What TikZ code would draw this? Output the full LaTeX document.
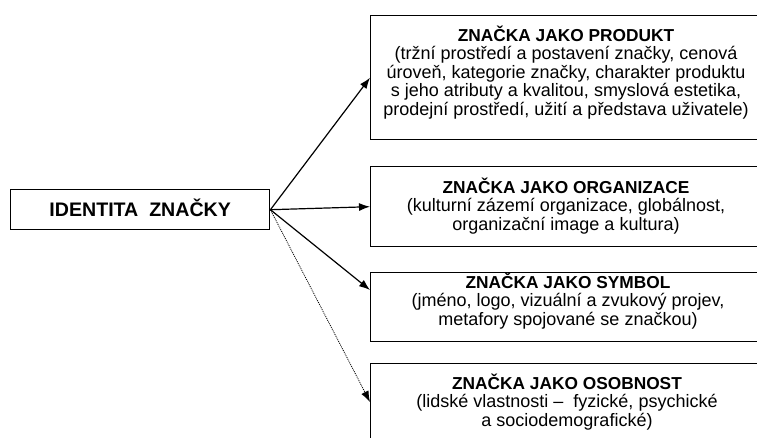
\documentclass[tikz,border=0pt]{standalone}
\usepackage{fontspec}
\setmainfont{Liberation Sans}
\usetikzlibrary{arrows.meta,calc}
% heading lines inside the target boxes
\newcommand\boxhead{\fontsize{17.3}{18}\selectfont\bfseries}
\begin{document}
\begin{tikzpicture}[x=1pt,y=-1pt,
  box/.style={draw,line width=1.4pt,anchor=north west,inner sep=0pt},
  body/.style={anchor=base,inner sep=0pt,font=\fontsize{18}{18}\selectfont},
  link/.style={line width=1.2pt,-{Latex[length=11pt,width=8pt]}},
  weak/.style={line width=0.8pt,dash pattern=on 1pt off 1pt,-{Latex[length=11pt,width=8pt]}}]
\useasboundingbox[fill=white] (0,0) rectangle (757,437);

% source box
\node[box,minimum width=259pt,minimum height=40pt,text height=14pt,text depth=0pt,
      font=\fontsize{19.6}{22}\selectfont\bfseries] (id) at (10,189) {IDENTITA~~ZNAČKY};

% target boxes (running past the right margin)
\node[box,minimum width=392pt,minimum height=124pt] (prod) at (370,15) {};
\node[box,minimum width=392pt,minimum height=80pt]  (org)  at (370,166) {};
\node[box,minimum width=392pt,minimum height=69pt]  (sym)  at (370,272) {};
\node[box,minimum width=392pt,minimum height=85pt]  (pers) at (370,363) {};

% box texts
\node[body] (tprod) at (566,41) {\begin{tabular}[t]{@{}c@{}}
  {\boxhead ZNAČKA JAKO PRODUKT}\\
  (tržní prostředí a postavení značky, cenová\\
  úroveň, kategorie značky, charakter produktu\\
  s jeho atributy a kvalitou, smyslová estetika,\\
  prodejní prostředí, užití a představa uživatele)\end{tabular}};
\node[body] (torg) at (566,193) {\begin{tabular}[t]{@{}c@{}}
  {\boxhead ZNAČKA JAKO ORGANIZACE}\\
  (kulturní zázemí organizace, globálnost,\\
  organizační image a kultura)\end{tabular}};
\node[body] (tsym) at (568,288) {\begin{tabular}[t]{@{}c@{}}
  {\boxhead ZNAČKA JAKO SYMBOL}\\
  (jméno, logo, vizuální a zvukový projev,\\
  metafory spojované se značkou)\end{tabular}};
\node[body] (tpers) at (567,389) {\begin{tabular}[t]{@{}c@{}}
  {\boxhead ZNAČKA JAKO OSOBNOST}\\
  (lidské vlastnosti –~ fyzické, psychické\\
  a sociodemografické)\end{tabular}};

% connectors
\coordinate (symin)  at ($(sym.north west)+(0,18)$);
\coordinate (persin) at ($(pers.north west)+(0,39)$);
\draw[link] (id.east) -- (prod.west);
\draw[link] (id.east) -- (org.west);
\draw[link] (id.east) -- (symin);
\draw[weak] (id.east) -- (persin);
\end{tikzpicture}
\end{document}
